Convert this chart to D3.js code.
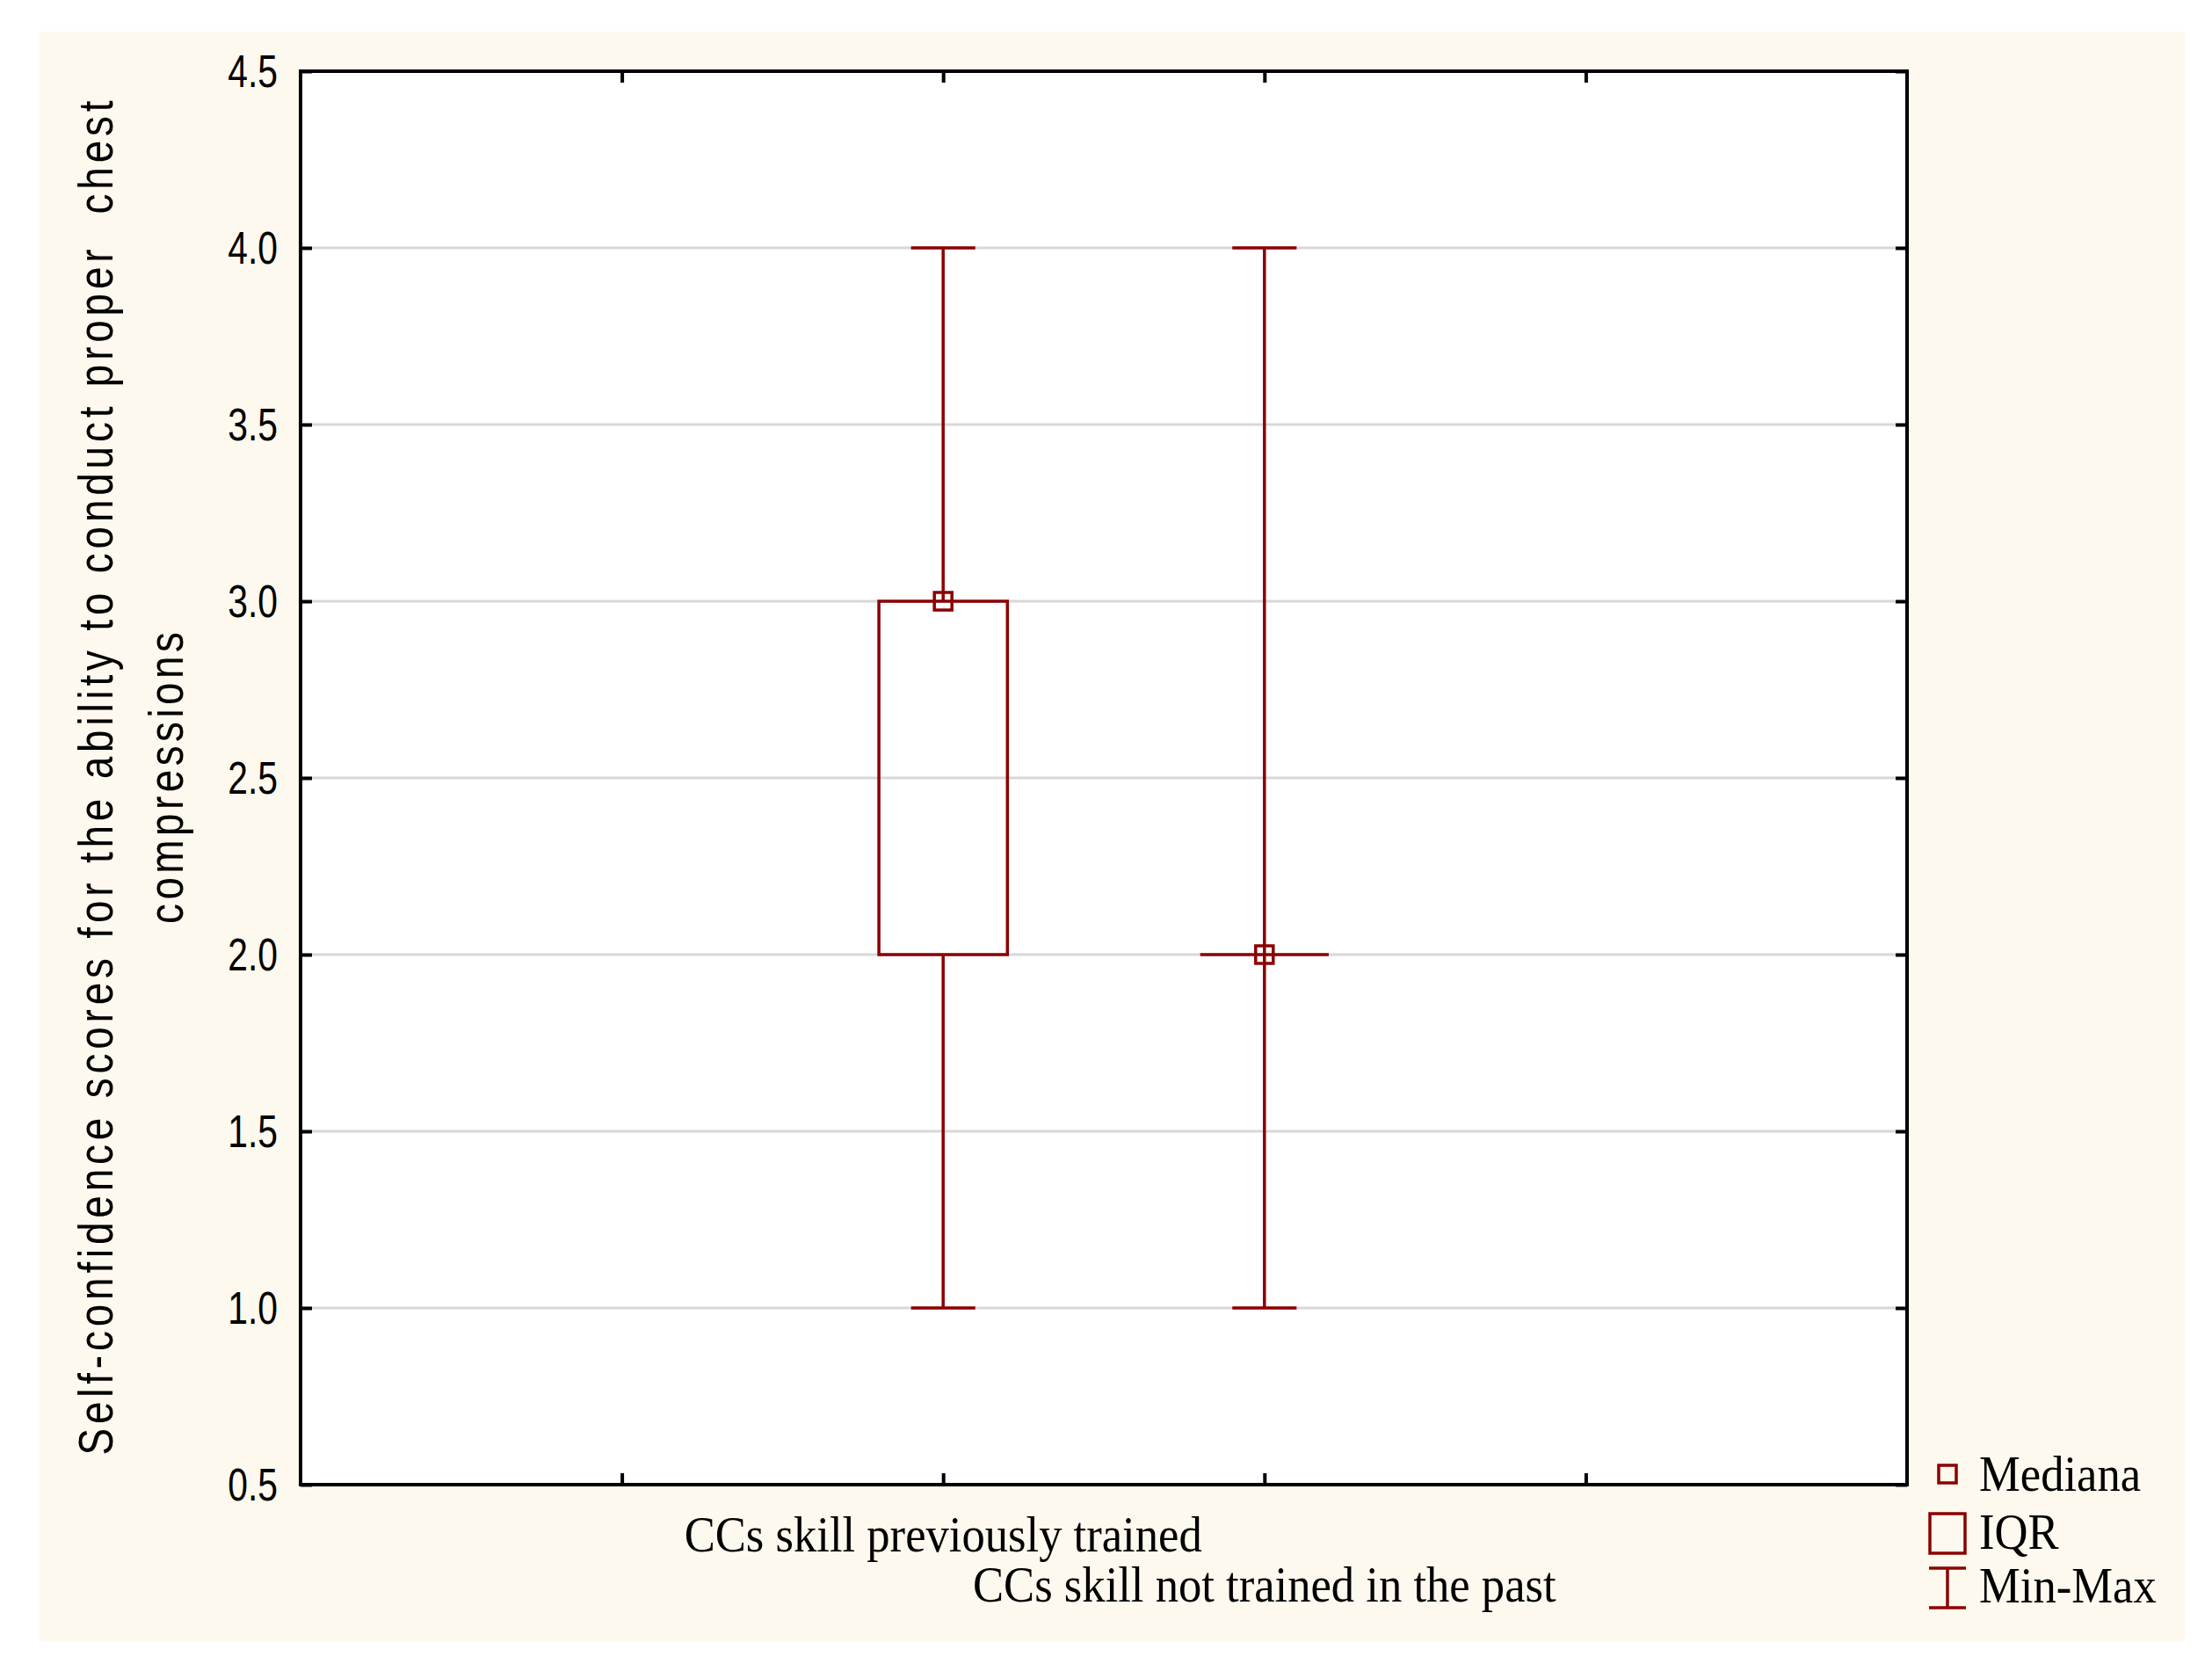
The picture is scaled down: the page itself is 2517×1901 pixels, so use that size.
<!DOCTYPE html>
<html>
<head>
<meta charset="utf-8">
<script src="https://cdn.jsdelivr.net/npm/d3@7"></script>
<style>
  html, body { margin: 0; padding: 0; background: #ffffff; }
  svg { display: block; }
</style>
</head>
<body>
<script>
// ---- Data ----
const categories = ["CCs skill previously trained", "CCs skill not trained in the past"];
const medians = [3.0, 2.0];
const q1s = [2.0, 2.0];
const q3s = [3.0, 2.0];
const mins = [1.0, 1.0];
const maxs = [4.0, 4.0];
const yTicks = [0.5, 1.0, 1.5, 2.0, 2.5, 3.0, 3.5, 4.0, 4.5];
const xTickPositions = [1, 2, 3, 4];
const categoryPositions = [2, 3];
const yTitleLines = ["Self-confidence scores for the ability to conduct proper  chest", "compressions"];
const legendLabels = ["Mediana", "IQR", "Min-Max"];

// ---- Layout / style ----
const W = 2517, H = 1901;
const plot = { left: 342, right: 2170, top: 81, bottom: 1689 };
const dark = "#8b0000";
const panelFill = "#fdf9ee";
const serif = "'Liberation Serif', 'Times New Roman', serif";
const sans = "'Liberation Sans', Arial, sans-serif";

const svg = d3.select("body").append("svg").attr("width", W).attr("height", H);

// cream panel
svg.append("rect").attr("x", 45).attr("y", 36).attr("width", 2441).attr("height", 1831).attr("fill", panelFill);
// plot background
svg.append("rect").attr("x", plot.left).attr("y", plot.top)
  .attr("width", plot.right - plot.left).attr("height", plot.bottom - plot.top).attr("fill", "#ffffff");

const x = d3.scaleLinear().domain([0, 5]).range([plot.left, plot.right]);
const y = d3.scaleLinear().domain([0.5, 4.5]).range([plot.bottom, plot.top]);
const bandW = x(1) - x(0);
const boxW = bandW * 0.4;
const capW = bandW * 0.2;

// gridlines
svg.append("g").selectAll("line").data(yTicks.filter(t => t > 0.5 && t < 4.5)).join("line")
  .attr("x1", plot.left).attr("x2", plot.right)
  .attr("y1", d => y(d)).attr("y2", d => y(d))
  .attr("stroke", "#d8d8d8").attr("stroke-width", 3);

// y axis (left) using d3 axis, ticks inward
const yAxis = d3.axisLeft(y).tickValues(yTicks).tickSize(-13).tickFormat("");
const gy = svg.append("g").attr("transform", `translate(${plot.left},0)`).call(yAxis);
gy.select(".domain").remove();
gy.selectAll(".tick line").attr("stroke", "#000").attr("stroke-width", 4);
const gyR = svg.append("g").attr("transform", `translate(${plot.right},0)`).call(d3.axisRight(y).tickValues(yTicks).tickSize(-13).tickFormat(""));
gyR.select(".domain").remove();
gyR.selectAll(".tick line").attr("stroke", "#000").attr("stroke-width", 4);

// x ticks bottom & top, inward
const gxB = svg.append("g").attr("transform", `translate(0,${plot.bottom})`).call(d3.axisBottom(x).tickValues(xTickPositions).tickSize(-13).tickFormat(""));
gxB.select(".domain").remove();
gxB.selectAll(".tick line").attr("stroke", "#000").attr("stroke-width", 4);
const gxT = svg.append("g").attr("transform", `translate(0,${plot.top})`).call(d3.axisTop(x).tickValues(xTickPositions).tickSize(-13).tickFormat(""));
gxT.select(".domain").remove();
gxT.selectAll(".tick line").attr("stroke", "#000").attr("stroke-width", 4);

// y tick labels (condensed sans)
svg.append("g").selectAll("text").data(yTicks).join("text")
  .attr("transform", d => `translate(316,${y(d) + 18}) scale(0.8,1)`)
  .attr("text-anchor", "end")
  .attr("font-family", sans).attr("font-size", 51).attr("fill", "#000")
  .text(d => d.toFixed(1));

// ---- Box plots ----
const data = categories.map((c, i) => ({
  name: c, pos: categoryPositions[i], med: medians[i], q1: q1s[i], q3: q3s[i], min: mins[i], max: maxs[i]
}));
const gb = svg.append("g").attr("stroke", dark).attr("stroke-width", 3.5).attr("fill", "none");
data.forEach(d => {
  const cx = x(d.pos);
  // whiskers
  gb.append("line").attr("x1", cx).attr("x2", cx).attr("y1", y(d.max)).attr("y2", y(d.q3));
  gb.append("line").attr("x1", cx).attr("x2", cx).attr("y1", y(d.q1)).attr("y2", y(d.min));
  // caps
  gb.append("line").attr("x1", cx - capW / 2).attr("x2", cx + capW / 2).attr("y1", y(d.max)).attr("y2", y(d.max));
  gb.append("line").attr("x1", cx - capW / 2).attr("x2", cx + capW / 2).attr("y1", y(d.min)).attr("y2", y(d.min));
  // IQR box
  if (d.q3 > d.q1) {
    gb.append("rect").attr("x", cx - boxW / 2).attr("y", y(d.q3))
      .attr("width", boxW).attr("height", y(d.q1) - y(d.q3));
  } else {
    gb.append("line").attr("x1", cx - boxW / 2).attr("x2", cx + boxW / 2).attr("y1", y(d.q1)).attr("y2", y(d.q1));
  }
  // median marker
  gb.append("rect").attr("x", cx - 10).attr("y", y(d.med) - 10).attr("width", 20).attr("height", 20);
});

// frame
svg.append("rect").attr("x", plot.left).attr("y", plot.top)
  .attr("width", plot.right - plot.left).attr("height", plot.bottom - plot.top)
  .attr("fill", "none").attr("stroke", "#000").attr("stroke-width", 4);

// ---- Category labels (staggered) ----
const catBaselines = [1765, 1822];
svg.append("g").selectAll("text").data(data).join("text")
  .attr("transform", (d, i) => `translate(${x(d.pos)},${catBaselines[i]}) scale(0.94,1)`)
  .attr("text-anchor", "middle")
  .attr("font-family", serif).attr("font-size", 56).attr("fill", "#000")
  .text(d => d.name);

// ---- Y title (two lines, rotated) ----
const titleX = [128, 208];
const titleLen = [1541, 332];
const yt = svg.append("g");
yTitleLines.forEach((t, i) => {
  const el = yt.append("text")
    .attr("transform", `translate(${titleX[i]},${(plot.top + plot.bottom) / 2}) rotate(-90) scale(0.82,1)`)
    .attr("text-anchor", "middle")
    .attr("font-family", sans).attr("font-size", 56).attr("fill", "#000")
    .style("white-space", "pre")
    .text(t);
  el.attr("textLength", titleLen[i] / 0.82).attr("lengthAdjust", "spacing");
});

// ---- Legend ----
const lg = svg.append("g");
const lx = 2216, tx = 2252;
// Mediana marker
lg.append("rect").attr("x", lx - 10).attr("y", 1667).attr("width", 20).attr("height", 20)
  .attr("fill", "none").attr("stroke", dark).attr("stroke-width", 3.5);
// IQR box
lg.append("rect").attr("x", 2196).attr("y", 1722).attr("width", 40).attr("height", 45)
  .attr("fill", "none").attr("stroke", dark).attr("stroke-width", 3.5);
// Min-Max whisker
lg.append("line").attr("x1", 2195).attr("x2", 2237).attr("y1", 1784).attr("y2", 1784).attr("stroke", dark).attr("stroke-width", 3.5);
lg.append("line").attr("x1", 2195).attr("x2", 2237).attr("y1", 1829).attr("y2", 1829).attr("stroke", dark).attr("stroke-width", 3.5);
lg.append("line").attr("x1", 2216).attr("x2", 2216).attr("y1", 1784).attr("y2", 1829).attr("stroke", dark).attr("stroke-width", 3.5);
const legendBaselines = [1696, 1762, 1823];
lg.selectAll("text").data(legendLabels).join("text")
  .attr("transform", (d, i) => `translate(${tx},${legendBaselines[i]}) scale(0.94,1)`)
  .attr("font-family", serif).attr("font-size", 56).attr("fill", "#000")
  .text(d => d);
</script>
</body>
</html>
